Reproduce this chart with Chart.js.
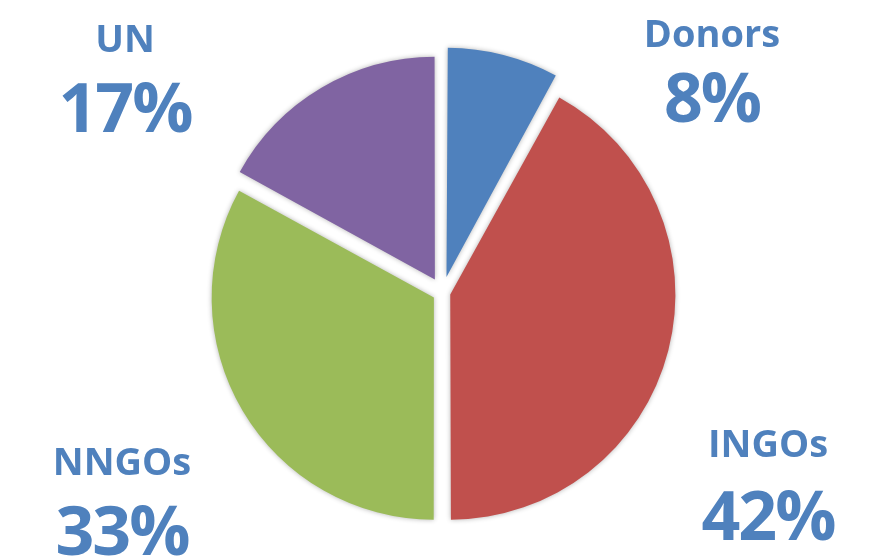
<html lang="en">
<head>
    <meta charset="UTF-8">
    <title>Share by actor</title>
    <script src="https://cdn.jsdelivr.net/npm/chart.js"></script>
    <style>
        body {
            margin: 0;
            background: #ffffff;
            font-family: "Open Sans", Arial, sans-serif;
        }
        #wrap {
            position: relative;
            width: 884px;
            height: 556px;
            overflow: hidden;
        }
        .lbl {
            position: absolute;
            transform: translateX(-50%);
            color: #4f81bd;
            font-weight: 700;
            line-height: 1;
            white-space: nowrap;
        }
        .name { font-size: 38px; }
        .pct { font-size: 68px; letter-spacing: -2px; }
    </style>
</head>
<body>
    <div id="wrap">
        <canvas id="pieChart"></canvas>
    </div>

    <script>
        const categories = ['Donors', 'INGOs', 'NNGOs', 'UN'];
        const shares = [8, 42, 33, 17];
        const colors = ['#4f81bd', '#c0504d', '#9bbb59', '#8064a2'];
        // explode distance per slice (chart.js moves a slice by offset / 4)
        const explode = [64, 32, 40, 60];

        // where each label sits: [name top, pct top, centre x]
        const labelPos = {
            'Donors': [13, 62, 712],
            'INGOs': [423, 480, 768],
            'NNGOs': [441, 495, 122],
            'UN': [18, 72, 125]
        };

        const wrap = document.getElementById('wrap');
        categories.forEach((c, i) => {
            const p = labelPos[c];
            const n = document.createElement('div');
            n.className = 'lbl name';
            n.style.top = p[0] + 'px';
            n.style.left = p[2] + 'px';
            n.textContent = c;
            wrap.appendChild(n);
            const v = document.createElement('div');
            v.className = 'lbl pct';
            v.style.top = p[1] + 'px';
            v.style.left = p[2] + 'px';
            v.textContent = shares[i] + '%';
            wrap.appendChild(v);
        });

        // soft drop shadow under the slices
        const shadowPlugin = {
            id: 'sliceShadow',
            beforeDatasetsDraw(chart) {
                const ctx = chart.ctx;
                ctx.save();
                ctx.shadowColor = 'rgba(0,0,0,0.3)';
                ctx.shadowBlur = 5;
                ctx.shadowOffsetX = 0;
                ctx.shadowOffsetY = 0;
            },
            afterDatasetsDraw(chart) {
                chart.ctx.restore();
            }
        };

        const ctx = document.getElementById('pieChart').getContext('2d');
        new Chart(ctx, {
            type: 'pie',
            data: {
                labels: categories,
                datasets: [{
                    data: shares,
                    backgroundColor: colors,
                    borderWidth: 0,
                    hoverBorderWidth: 0,
                    offset: explode,
                    hoverOffset: 0,
                    radius: 221
                }]
            },
            options: {
                responsive: true,
                maintainAspectRatio: false,
                animation: false,
                layout: { padding: { left: 1, top: 29 } },
                plugins: {
                    legend: { display: false },
                    tooltip: { enabled: false }
                }
            },
            plugins: [shadowPlugin]
        });
    </script>
</body>
</html>
